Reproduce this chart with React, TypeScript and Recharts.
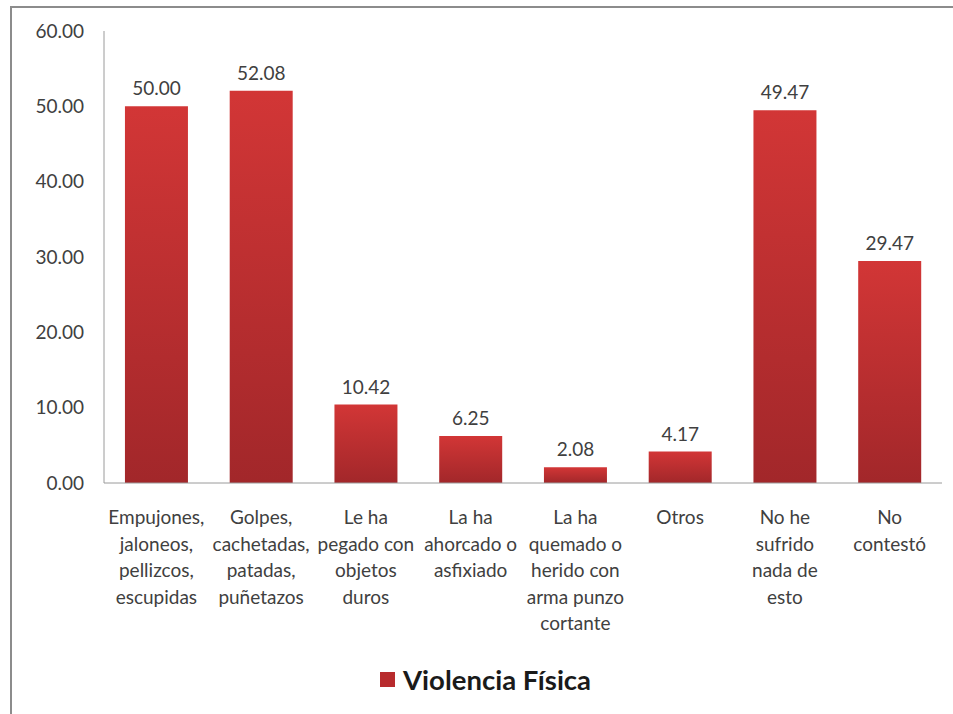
import { BarChart, Bar, XAxis, YAxis, LabelList } from 'recharts';

const categories = [
  ['Empujones,', 'jaloneos,', 'pellizcos,', 'escupidas'],
  ['Golpes,', 'cachetadas,', 'patadas,', 'puñetazos'],
  ['Le ha', 'pegado con', 'objetos', 'duros'],
  ['La ha', 'ahorcado o', 'asfixiado'],
  ['La ha', 'quemado o', 'herido con', 'arma punzo', 'cortante'],
  ['Otros'],
  ['No he', 'sufrido', 'nada de', 'esto'],
  ['No', 'contestó'],
];
const values = [50.0, 52.08, 10.42, 6.25, 2.08, 4.17, 49.47, 29.47];
const yTicks = [0, 10, 20, 30, 40, 50, 60];
const seriesName = 'Violencia Física';

const data = categories.map((lines, i) => ({ key: String(i), value: values[i] }));

const FONT = 'Lato, "Open Sans", sans-serif';
const FS = 19;

function CategoryTick(props: any) {
  const { x, y, payload } = props;
  const lines = categories[Number(payload.value)];
  return (
    <text x={x} y={y} textAnchor="middle" fill="#404040" fontSize={FS} fontFamily={FONT}>
      {lines.map((l, i) => (
        <tspan key={i} x={x} dy={i === 0 ? 33 : 26.5}>{l}</tspan>
      ))}
    </text>
  );
}

export default function App() {
  return (
    <div style={{ position: 'absolute', left: 0, top: 0, width: 953, height: 714, background: '#fff' }}>
      <div style={{ position: 'absolute', left: 10, top: 6, width: 960, height: 720, borderLeft: '2px solid #8c8c8c', borderTop: '2px solid #8c8c8c' }} />
      <div style={{ position: 'absolute', left: 0, top: 0 }}>
        <BarChart width={953} height={714} data={data} margin={{ top: 31, right: 11, bottom: 61, left: 14 }} barCategoryGap="20%">
          <defs>
            <linearGradient id="redGrad" x1="0" y1="0" x2="0" y2="1">
              <stop offset="0%" stopColor="#D23636" />
              <stop offset="100%" stopColor="#A2272A" />
            </linearGradient>
          </defs>
          <XAxis dataKey="key" height={170} tickLine={false} axisLine={{ stroke: '#9a9a9a' }} tick={<CategoryTick />} interval={0} />
          <YAxis
            width={90}
            domain={[0, 60]}
            ticks={yTicks}
            tickFormatter={(v: number) => v.toFixed(2)}
            tickLine={false}
            tickSize={6}
            tickMargin={14}
            axisLine={{ stroke: '#9a9a9a' }}
            tick={{ fill: '#404040', fontSize: FS, fontFamily: FONT }}
          />
          <Bar dataKey="value" fill="url(#redGrad)" isAnimationActive={false}>
            <LabelList dataKey="value" position="top" offset={11} formatter={(v: any) => Number(v).toFixed(2)} fill="#404040" fontSize={FS} fontFamily={FONT} />
          </Bar>
        </BarChart>
      </div>
      <div style={{ position: 'absolute', left: 380, top: 663, display: 'flex', alignItems: 'center', fontFamily: FONT, whiteSpace: 'nowrap' }}>
        <span style={{ display: 'inline-block', width: 15, height: 15, background: '#B82B2D', marginRight: 8 }} />
        <span style={{ fontSize: 27.5, fontWeight: 700, color: '#1a1a1a' }}>{seriesName}</span>
      </div>
    </div>
  );
}
